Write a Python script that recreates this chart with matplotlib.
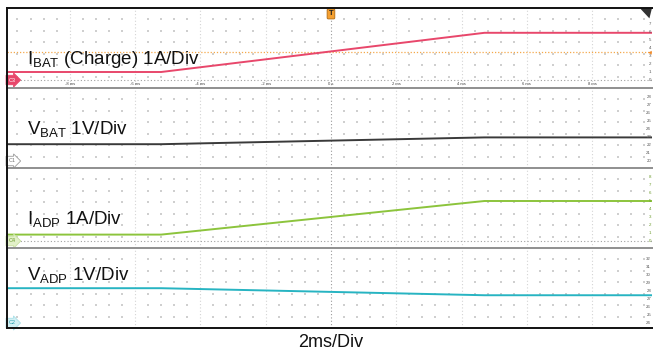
import numpy as np
import matplotlib
matplotlib.use("Agg")
import matplotlib.pyplot as plt
from matplotlib.patches import Polygon

plt.rcParams['font.family'] = ['Liberation Sans', 'DejaVu Sans']
plt.rcParams['mathtext.fontset'] = 'custom'
plt.rcParams['mathtext.rm'] = 'Liberation Sans'
plt.rcParams['mathtext.it'] = 'Liberation Sans'

# ---- data (time in ms) ----
t_break = [-9.92, -5.2, 4.7, 9.83]
ibat = [1.0, 1.0, 5.9, 5.9]          # A
vbat = [22.1, 22.1, 22.95, 22.95]    # V
iadp = [0.8, 0.8, 5.0, 5.0]          # A
vadp = [28.35, 28.35, 27.47, 27.47]  # V
trigger_level = 3.5

time_ticks = [-8, -6, -4, -2, 0, 2, 4, 6, 8]
time_labels = ["-8 ms", "-6 ms", "-4 ms", "-2 ms", "0 s", "2 ms", "4 ms", "6 ms", "8 ms"]

panels = [
    dict(name=r"$\mathregular{I_{BAT}}$ (Charge) 1A/Div", t=t_break, y=ibat, color="#e8476b",
         ylim=(-1.0, 9.0), scale=list(range(0, 8)), zero=0, badge="C3",
         bfc="#e8476b", bec="#e8476b", btc="white", text_y=0.30, zl=True),
    dict(name=r"$\mathregular{V_{BAT}}$ 1V/Div", t=t_break, y=vbat, color="#3a3a3a",
         ylim=(19.125, 29.125), scale=list(range(20, 29)), zero=20, badge="C1",
         bfc="white", bec="#9a9a9a", btc="#777777", text_y=0.42, zl=False),
    dict(name=r"$\mathregular{I_{ADP}}$ 1A/Div", t=t_break, y=iadp, color="#8cc43c",
         ylim=(-0.875, 9.125), scale=list(range(0, 9)), zero=0, badge="C4",
         bfc="#e2f0c8", bec="#c8e0a0", btc="#6a9a2a", text_y=0.30, zl=True),
    dict(name=r"$\mathregular{V_{ADP}}$ 1V/Div", t=t_break, y=vadp, color="#27b4c2",
         ylim=(23.375, 33.375), scale=list(range(24, 33)), zero=24, badge="C2",
         bfc="#d2f0f4", bec="#a8e0e8", btc="#27a0b0", text_y=0.60, zl=False),
]

W, H = 653, 352
fig = plt.figure(figsize=(W / 100, H / 100), dpi=100)
left_px, right_px = 7, 652
top_px, bot_px = 8, 328
ph = (bot_px - top_px) / 4
xlim = (-9.92, 9.83)

axes = []
for i, p in enumerate(panels):
    y0 = top_px + i * ph
    ax = fig.add_axes([left_px / W, 1 - (y0 + ph) / H, (right_px - left_px) / W, ph / H])
    axes.append(ax)
    ax.set_xlim(*xlim)
    ax.set_ylim(*p["ylim"])
    ax.set_xticks([])
    ax.set_yticks([])
    for s in ax.spines.values():
        s.set_visible(False)

    # minor dot grid
    xm = np.arange(-9.6, 9.7, 0.4)
    xm = xm[np.abs(np.round(xm / 2) * 2 - xm) > 0.05]
    ym_frac = np.arange(1, 7) / 7
    XX, YY = np.meshgrid(xm, ym_frac)
    ax.scatter(XX.ravel(), YY.ravel(), s=0.6, color="#cfcfcf", marker="s", linewidths=0,
               transform=ax.get_xaxis_transform(), zorder=1)
    # major vertical dotted lines
    for tk in time_ticks:
        ax.axvline(tk, color="#9a9a9a" if tk == 0 else "#d4d4d4", lw=0.8,
                   linestyle=(0, (1, 2)), zorder=1)
    if p["zl"]:
        ax.axhline(p["zero"], color="#a0a0a0", lw=0.8, linestyle=(0, (1, 2)), zorder=1)

    # trace
    ax.plot(p["t"], p["y"], color=p["color"], lw=1.4, zorder=3, solid_capstyle="butt")

    # right scale labels
    for v in p["scale"]:
        ax.text(0.9985, v, str(v), transform=ax.get_yaxis_transform(), ha="right",
                va="center", fontsize=3.2, color="#555555" if i != 2 else "#6a9a2a",
                zorder=4)

    # label
    ax.text(20 / (right_px - left_px), p["text_y"], p["name"], transform=ax.transAxes,
            fontsize=13.5, color="#111111", ha="left", va="baseline", zorder=5)

    # channel badge
    ax.text(0.002, p["zero"], p["badge"], transform=ax.get_yaxis_transform(),
            fontsize=4.0, color=p["btc"], ha="left", va="center", zorder=6,
            bbox=dict(boxstyle="rarrow,pad=0.4", fc=p["bfc"], ec=p["bec"], lw=0.6))

# panel 1 extras
ax1 = axes[0]
ax1.axhline(trigger_level, color="#f5a84a", lw=0.9, linestyle=(0, (1, 1.5)), zorder=2)
for tk, lb in zip(time_ticks, time_labels):
    ax1.text(tk, -0.55, lb, fontsize=3.0, color="#444444", ha="center", va="center")
ax1.text(9.83, trigger_level, "\u25C0", fontsize=3.5, color="#f08a2a", ha="right",
         va="center", zorder=6)
# trigger T marker
ax1.text(0, 0.97, "T", transform=ax1.get_xaxis_transform(), fontsize=5.5, color="#222222",
         ha="center", va="top", fontweight="bold", zorder=7,
         bbox=dict(boxstyle="round,pad=0.2,rounding_size=0.15", fc="#f5a030", ec="#b06a10",
                   lw=0.6))
# top-right triangle
ax1.add_patch(Polygon([[0.981, 1.0], [1.0, 1.0], [0.996, 0.87]], closed=True,
                      transform=ax1.transAxes, fc="#333333", ec="none", zorder=7,
                      clip_on=False))

# separators and frame
for i in range(1, 4):
    yy = 1 - (top_px + i * ph) / H
    fig.add_artist(plt.Line2D([left_px / W, 1.0], [yy, yy], color="#8f8f8f", lw=1.4))
fig.add_artist(plt.Line2D([left_px / W, 1.0], [1 - top_px / H] * 2, color="#111111", lw=1.4))
fig.add_artist(plt.Line2D([left_px / W, 1.0], [1 - bot_px / H] * 2, color="#111111", lw=1.4))
fig.add_artist(plt.Line2D([left_px / W] * 2, [1 - top_px / H, 1 - bot_px / H],
                          color="#111111", lw=1.4))

fig.text(331 / W, 1 - 347 / H, "2ms/Div", fontsize=13, ha="center", va="baseline",
         color="#111111")

fig.savefig("out.png", dpi=100)
